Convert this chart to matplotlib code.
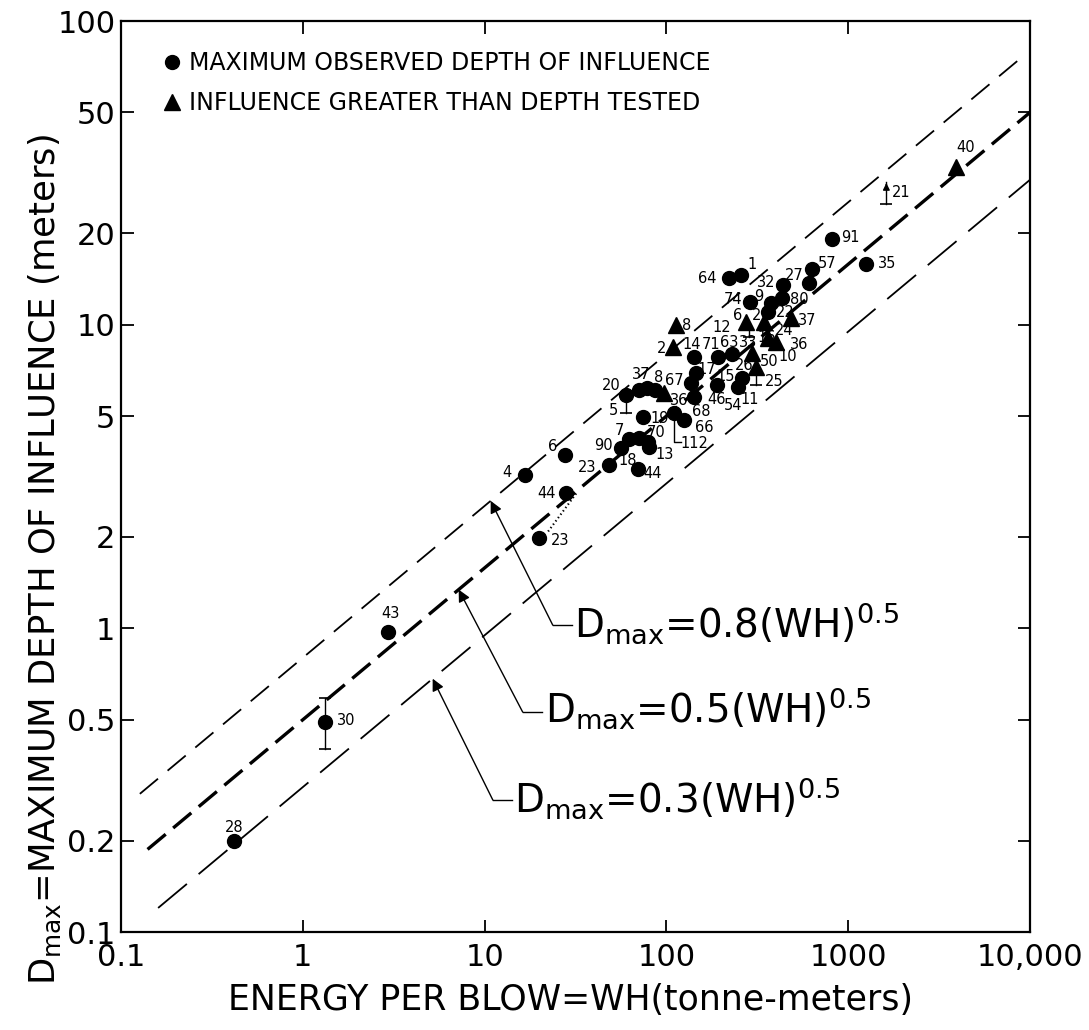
import numpy as np
import matplotlib
matplotlib.use("Agg")
import matplotlib.pyplot as plt
from matplotlib.lines import Line2D

plt.rcParams["font.family"] = ["DejaVu Sans"]
plt.rcParams["mathtext.fontset"] = "dejavusans"
plt.rcParams["lines.scale_dashes"] = False

# ── data ─────────────────────────────────────────────────────────────────────
circ_x = [0.42, 1.32, 2.94, 16.6, 27.7, 28.1, 19.9, 48.6, 69.5,
          56.4, 62.6, 71.1, 78.9, 80.7,
          74.2, 60.1, 71.1, 78.0, 87.1, 110.6, 125.5, 142.6, 145.5, 136.7,
          188.8, 142.6, 191.4, 229.6, 260.6, 246.6,
          361, 288, 376, 435, 440, 611, 629, 257, 222, 813, 1250]
circ_y = [0.20, 0.49, 0.975, 3.2, 3.72, 2.78, 1.98, 3.45, 3.34,
          3.94, 4.19, 4.22, 4.12, 3.96,
          4.95, 5.86, 6.09, 6.17, 6.09, 5.11, 4.85, 5.79, 6.91, 6.41,
          6.32, 7.84, 7.84, 8.0, 6.66, 6.25,
          11.0, 11.9, 11.8, 12.2, 13.5, 13.7, 15.2, 14.6, 14.2, 19.1, 15.9]
circ_lab = ["28", "30", "43", "4", "6", "44", "23", "23", "44",
            "90", "7", "18", "70", "13",
            "19", "20", "37", "", "8", "68", "66", "46", "17", "67",
            "15", "14", "71", "63", "26", "11",
            "22", "74", "9", "80", "32", "27", "57", "1", "64", "91", "35"]

tri_x = [108.4, 113.1, 97.5, 274, 345, 484, 360.6, 401, 295.8, 311, 3908]
tri_y = [8.46, 9.97, 5.94, 10.2, 10.2, 10.5, 9.02, 8.78, 8.05, 7.27, 33.1]
tri_lab = ["2", "8", "36", "6", "2", "37", "24", "36", "33", "25", "40"]

# error bars (x, low, high, label)
eb_x = [1.32, 60.1, 286, 311, 1622]
eb_lo = [0.40, 5.11, 9.12, 6.32, 24.9]
eb_hi = [0.59, 5.86, 9.97, 7.27, 29.6]
eb_lab = ["", "5", "16", "", "21"]

# Dmax = k (WH)^0.5 reference lines
line_k = [0.8, 0.5, 0.3]
line_x0 = [0.127, 0.14, 0.16]
line_x1 = [9000, 10000, 10000]

x_ticks = [0.1, 1, 10, 100, 1000, 10000]
x_ticklabels = ["0.1", "1", "10", "100", "1000", "10,000"]
y_ticks = [0.1, 0.2, 0.5, 1, 2, 5, 10, 20, 50, 100]
y_ticklabels = ["0.1", "0.2", "0.5", "1", "2", "5", "10", "20", "50", "100"]

# label offsets (pixels) for point labels
circ_off = [(0, 13), (21, 2), (3, 18), (-18, 2), (-12, 9), (-20, 0), (21, -2), (-22, -2), (15, -4),
            (-18, 2), (-10, 9), (-12, -22), (8, 9), (15, -8),
            (17, -1), (-15, 10), (2, 16), (0, 0), (3, 13), (27, 2), (20, -7), (22, -3), (11, 4), (-17, 3),
            (9, 9), (-3, 12), (-7, 12), (-3, 12), (2, 13), (12, -13),
            (17, 0), (-17, 2), (-12, 6), (17, -1), (-17, 3), (-15, 8), (16, 6), (11, 10), (-22, 0), (19, 2), (21, 0)]
tri_off = [(-11, -2), (11, 0), (15, -7), (-8, 7), (-8, 7), (16, -2), (17, 8), (23, -3), (-4, 11), (18, -15), (10, 19)]

LAB_FS = 10.5

# ── figure ───────────────────────────────────────────────────────────────────
fig = plt.figure(figsize=(10.89, 10.30), dpi=100)
ax = fig.add_axes([121 / 1089, 1 - 932 / 1030, 909 / 1089, 911 / 1030])
ax.set_xscale("log")
ax.set_yscale("log")
ax.set_xlim(0.1, 10000)
ax.set_ylim(0.1, 100)

styles = [dict(lw=1.3, dashes=(17, 9)),
          dict(lw=2.4, dashes=(17, 7)),
          dict(lw=1.3, dashes=(27, 11))]
for k, x0, x1, st in zip(line_k, line_x0, line_x1, styles):
    xs = np.array([x0, x1])
    ax.plot(xs, k * np.sqrt(xs), color="black", **st)

ax.plot(circ_x, circ_y, "o", color="black", ms=10, ls="none", zorder=5)
ax.plot(tri_x, tri_y, "^", color="black", ms=11, ls="none", zorder=5)


def tag(text, xy, off):
    ax.annotate(text, xy, xytext=off, textcoords="offset pixels",
                ha="center", va="center", fontsize=LAB_FS)


for x, y, lab, off in zip(circ_x, circ_y, circ_lab, circ_off):
    if lab:
        tag(lab, (x, y), off)
for x, y, lab, off in zip(tri_x, tri_y, tri_lab, tri_off):
    tag(lab, (x, y), off)

# extra labels sharing markers
tag("12", (274, 10.2), (-24, -5))
tag("50", (295.8, 8.05), (17, -8))
tag("10", (401, 8.78), (12, -15))
tag("54", (246.6, 6.25), (-5, -19))

# error bars
for x, lo, hi, lab in zip(eb_x, eb_lo, eb_hi, eb_lab):
    ax.plot([x, x], [lo, hi], color="black", lw=1.0)
    ax.plot([x], [lo], marker="_", ms=9, color="black", mew=1.2)
    if lab == "21":
        ax.annotate("", (x, hi * 1.01), xytext=(x, hi * 0.95),
                    arrowprops=dict(arrowstyle="-|>", color="black", lw=1, mutation_scale=10))
        tag(lab, (x, np.sqrt(lo * hi)), (15, 0))
    elif lab == "5":
        tag(lab, (x, lo), (-13, 3))
    elif lab == "16":
        tag(lab, (x, lo), (17, -1))
    elif x < 2:
        ax.plot([x], [hi], marker="_", ms=9, color="black", mew=1.2)

# bracket 112
ax.plot([110.6, 110.6, 120.8], [5.11, 4.11, 4.11], color="black", lw=1.0)
tag("112", (120.8, 4.11), (13, -2))

# dotted link 44 -> 23
ax.plot([31.9, 22.3], [2.78, 2.08], color="black", lw=1.5, ls=(0, (1, 2)))

# formula callouts
callouts = [("0.8", (10.8, 0.8 * np.sqrt(10.8)), (23.7, 1.025), (31.2, 0.929)),
            ("0.5", (7.2, 0.5 * np.sqrt(7.2)), (16.2, 0.530), (21.4, 0.488)),
            ("0.3", (5.18, 0.3 * np.sqrt(5.18)), (11.1, 0.272), (14.6, 0.2465))]
for k, tip, elbow, txt in callouts:
    ax.annotate("", tip, xytext=elbow,
                arrowprops=dict(arrowstyle="-|>", color="black", lw=1.0, mutation_scale=18,
                                shrinkA=0, shrinkB=0))
    ax.plot([elbow[0], txt[0] * 0.97], [elbow[1], elbow[1]], color="black", lw=1.0)
    ax.text(txt[0], txt[1], r"D$_{\rm max}$=" + k + r"(WH)$^{0.5}$", fontsize=28,
            ha="left", va="baseline")

# axes styling
for s in ax.spines.values():
    s.set_linewidth(1.6)
ax.set_xticks(x_ticks)
ax.set_xticklabels(x_ticklabels)
ax.set_yticks(y_ticks)
ax.set_yticklabels(y_ticklabels)
ax.minorticks_off()
ax.tick_params(which="major", direction="in", length=9, width=1.3, labelsize=22,
               top=True, right=True)
ax.tick_params(axis="x", pad=8)
ax.tick_params(axis="y", pad=4)

# legend
handles = [Line2D([], [], marker="o", color="black", ls="none", ms=10),
           Line2D([], [], marker="^", color="black", ls="none", ms=11)]
ax.legend(handles, ["MAXIMUM OBSERVED DEPTH OF INFLUENCE",
                    "INFLUENCE GREATER THAN DEPTH TESTED"],
          loc="upper left", bbox_to_anchor=(0.02, 0.99), frameon=False,
          fontsize=17, handletextpad=0.2, labelspacing=0.68, handlelength=1.0)

fig.text(570 / 1089, 1 - 1000 / 1030, "ENERGY PER BLOW=WH(tonne-meters)",
         fontsize=25, ha="center", va="center")
fig.text(45 / 1089, 1 - 560 / 1030, r"D$_{\rm max}$=MAXIMUM DEPTH OF INFLUENCE (meters)",
         fontsize=25.5, ha="center", va="center", rotation=90)

fig.savefig("out.png", dpi=100)
